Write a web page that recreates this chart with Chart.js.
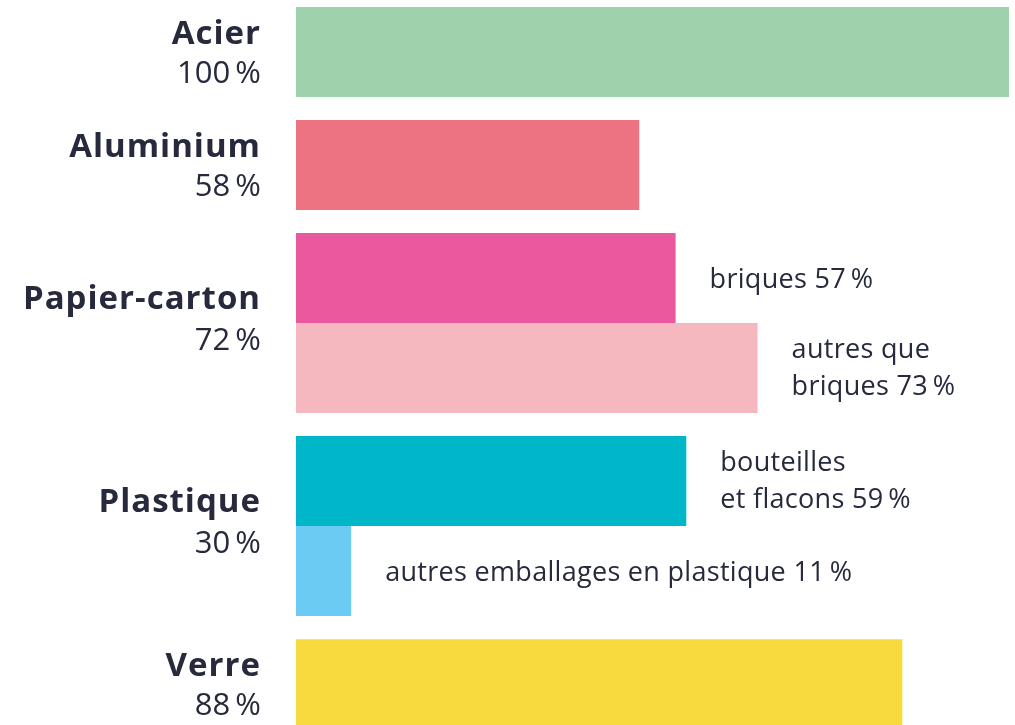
<!DOCTYPE html>
<html>
<head>
<meta charset="utf-8">
<script src="https://cdn.jsdelivr.net/npm/chart.js@4"></script>
<style>
  body { margin: 0; background: #fff; }
  #wrap { width: 1015px; height: 725px; }
</style>
</head>
<body>
<div id="wrap"><canvas id="chart" width="1015" height="725"></canvas></div>
<script>
// material groups and their overall rate
const groups = ['Acier', 'Aluminium', 'Papier-carton', 'Plastique', 'Verre'];
const groupRates = ['100\u2009%', '58\u2009%', '72\u2009%', '30\u2009%', '88\u2009%'];

// one entry per bar
const barGroup = [0, 1, 2, 2, 3, 3, 4];
const barNotes = ['', '', 'briques 57\u2009%', 'autres que\nbriques 73\u2009%', 'bouteilles\net flacons 59\u2009%', 'autres emballages en plastique 11\u2009%', ''];
// bar lengths (Acier = 100)
const barValues = [100, 48, 53.1, 64.6, 54.6, 7.6, 84.9];
const barColors = ['#9dd2ad', '#ee7382', '#ea589e', '#f6b8bf', '#00b6c9', '#6ccbf2', '#f8d93e'];

// bar rows: touching inside a group, a small gap between groups
const groupGap = 0.256;
const barPos = [];
let pos = 0;
barGroup.forEach((g, i) => {
  if (i > 0 && g !== barGroup[i - 1]) pos += groupGap;
  barPos.push(pos + 0.5);
  pos += 1;
});

const textColor = '#262a3c';

const labelsPlugin = {
  id: 'labels',
  afterDatasetsDraw(chart) {
    const ctx = chart.ctx;
    const yScale = chart.scales.y;
    const meta = chart.getDatasetMeta(0);
    ctx.save();
    ctx.fillStyle = textColor;

    // left side: group name + rate
    ctx.textAlign = 'right';
    groups.forEach((name, g) => {
      const rows = barPos.filter((p, i) => barGroup[i] === g);
      const center = yScale.getPixelForValue(rows.reduce((a, b) => a + b, 0) / rows.length);
      const dbl = rows.length > 1;
      ctx.font = 'bold 33px "Open Sans"';
      ctx.letterSpacing = '1px';
      ctx.fillText(name, 261, center + (dbl ? -14 : -8));
      ctx.font = '31px "Open Sans"';
      ctx.letterSpacing = '0px';
      ctx.fillText(groupRates[g], 261, center + (dbl ? 27 : 31));
    });

    // right of bars: sub-category notes
    ctx.textAlign = 'left';
    ctx.font = '27px "Open Sans"';
    ctx.letterSpacing = '0.3px';
    barNotes.forEach((note, i) => {
      if (!note) return;
      const bar = meta.data[i];
      const lines = note.split('\n');
      if (lines.length === 1) {
        ctx.fillText(lines[0], bar.x + 35, bar.y + 10);
      } else {
        ctx.fillText(lines[0], bar.x + 35, bar.y - 10);
        ctx.fillText(lines[1], bar.x + 35, bar.y + 27);
      }
    });
    ctx.restore();
  }
};

new Chart(document.getElementById('chart'), {
  type: 'bar',
  data: {
    datasets: [{
      data: barValues.map((v, i) => ({ x: v, y: barPos[i] })),
      backgroundColor: barColors,
      borderWidth: 0,
      inflateAmount: 1,
      categoryPercentage: 1,
      barPercentage: 1
    }]
  },
  options: {
    indexAxis: 'y',
    responsive: false,
    animation: false,
    layout: { padding: { left: 296, right: 6, top: 0, bottom: 0 } },
    scales: {
      x: { type: 'linear', min: 0, max: 100, display: false },
      y: {
        type: 'linear',
        reverse: true,
        min: -7 / 90,
        max: 725 / 90 - 7 / 90,
        offset: false,
        display: false,
        ticks: { stepSize: 1 }
      }
    },
    plugins: {
      legend: { display: false },
      tooltip: { enabled: false }
    }
  },
  plugins: [labelsPlugin]
});
</script>
</body>
</html>
